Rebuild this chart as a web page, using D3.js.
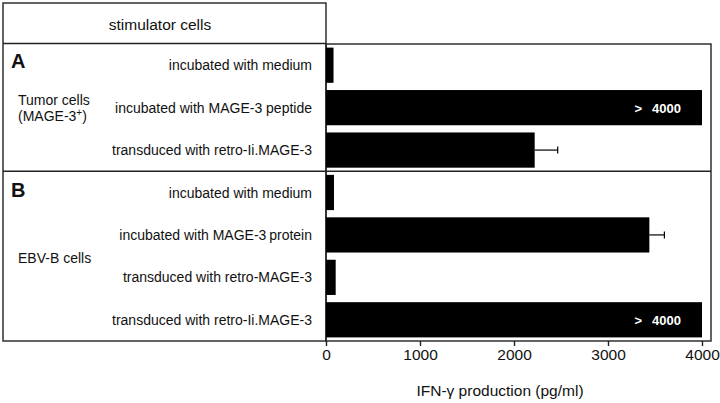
<!DOCTYPE html>
<html><head><meta charset="utf-8">
<script src="https://cdn.jsdelivr.net/npm/d3@7"></script>
<style>
html,body{margin:0;padding:0;background:#fff;}
svg{display:block;font-family:"Liberation Sans",Arial,Helvetica,sans-serif;}
</style></head>
<body>
<svg id="chart" width="720" height="403"></svg>
<script>
const rowLabels = [
  "incubated with medium",
  "incubated with MAGE-3 peptide",
  "transduced with retro-Ii.MAGE-3",
  "incubated with medium",
  "incubated with MAGE-3\u2009protein",
  "transduced with retro-MAGE-3",
  "transduced with retro-Ii.MAGE-3"
];
const panels = ["A", "A", "A", "B", "B", "B", "B"];
const values = [80, 4000, 2220, 85, 3440, 103, 4000];
const errors = [0, 0, 245, 0, 160, 0, 0];
const overflowLabels = ["", "4000", "", "", "", "", "4000"];
const tickValues = [0, 1000, 2000, 3000, 4000];
const axisTitle = "IFN-\u03b3 production (pg/ml)";
const headerTitle = "stimulator cells";

const svg = d3.select("#chart");
const x = d3.scaleLinear().domain([0, 4000]).range([326, 702]);
const y = d3.scaleBand().domain(d3.range(rowLabels.length)).range([44, 341])
  .paddingInner(0.17).paddingOuter(0.085);

const lineCol = "#222";
const sw = 1.4;
// boxes
const g = svg.append("g").attr("fill", "none").attr("stroke", lineCol).attr("stroke-width", sw);
g.append("rect").attr("x", 3).attr("y", 3).attr("width", 323).attr("height", 338);
g.append("rect").attr("x", 326).attr("y", 44).attr("width", 385).attr("height", 297);
g.append("line").attr("x1", 3).attr("x2", 326).attr("y1", 43.5).attr("y2", 43.5);
// panel divider between groups
const divY = (y(2) + y.bandwidth() + y(3)) / 2;
g.append("line").attr("x1", 3).attr("x2", 711).attr("y1", divY).attr("y2", divY);

// header
svg.append("text").attr("x", 160).attr("y", 30).attr("text-anchor", "middle")
  .attr("font-size", 15.5).attr("fill", "#111").text(headerTitle);

// panel letters
svg.append("text").attr("x", 11).attr("y", 68).attr("font-size", 20).attr("font-weight", "bold").attr("fill", "#111").text("A");
svg.append("text").attr("x", 11).attr("y", 197).attr("font-size", 20).attr("font-weight", "bold").attr("fill", "#111").text("B");

// group labels
svg.append("text").attr("x", 18).attr("y", 105).attr("font-size", 14).attr("fill", "#111").text("Tumor cells");
const t2 = svg.append("text").attr("x", 18).attr("y", 121).attr("font-size", 14).attr("fill", "#111");
t2.append("tspan").text("(MAGE-3");
t2.append("tspan").attr("dy", -5).attr("font-size", 10).text("+");
t2.append("tspan").attr("dy", 5).text(")");
svg.append("text").attr("x", 18).attr("y", 263).attr("font-size", 14).attr("fill", "#111").text("EBV-B cells");

// row labels
svg.append("g").selectAll("text").data(rowLabels).join("text")
  .attr("x", 312).attr("y", (d, i) => y(i) + y.bandwidth() / 2 + 5)
  .attr("text-anchor", "end").attr("font-size", 14).attr("fill", "#111").text(d => d);

// bars
svg.append("g").selectAll("rect").data(values).join("rect")
  .attr("x", x(0)).attr("y", (d, i) => y(i))
  .attr("width", d => x(d) - x(0)).attr("height", y.bandwidth()).attr("fill", "#000");

// error bars
const eb = svg.append("g").attr("stroke", "#000").attr("stroke-width", 1.2);
values.forEach((v, i) => {
  if (!errors[i]) return;
  const cy = y(i) + y.bandwidth() / 2;
  eb.append("line").attr("x1", x(v)).attr("x2", x(v + errors[i])).attr("y1", cy).attr("y2", cy);
  eb.append("line").attr("x1", x(v + errors[i])).attr("x2", x(v + errors[i])).attr("y1", cy - 3.5).attr("y2", cy + 3.5);
});

// overflow labels ("> 4000")
const ol = svg.append("g").selectAll("text").data(overflowLabels.map((d, i) => ({d, i})).filter(o => o.d)).join("text")
  .attr("x", o => x(values[o.i]) - 21).attr("y", o => y(o.i) + y.bandwidth() / 2 + 5)
  .attr("text-anchor", "end").attr("font-size", 13).attr("font-weight", "bold").attr("fill", "#fff");
ol.append("tspan").text(">");
ol.append("tspan").attr("dx", 10).text(o => o.d);

// axis
const axis = svg.append("g").attr("transform", "translate(0,341)")
  .call(d3.axisBottom(x).tickValues(tickValues).tickFormat(d3.format("d")).tickSize(5).tickSizeOuter(0).tickPadding(3));
axis.select(".domain").remove();
axis.selectAll(".tick line").attr("stroke", lineCol).attr("stroke-width", sw);
axis.selectAll(".tick text").attr("font-size", 15.5).attr("fill", "#111")
  .attr("font-family", "Liberation Sans, Arial, sans-serif");

svg.append("text").attr("x", 500).attr("y", 396).attr("text-anchor", "middle")
  .attr("font-size", 15.5).attr("fill", "#111").text(axisTitle);
</script>
</body></html>
